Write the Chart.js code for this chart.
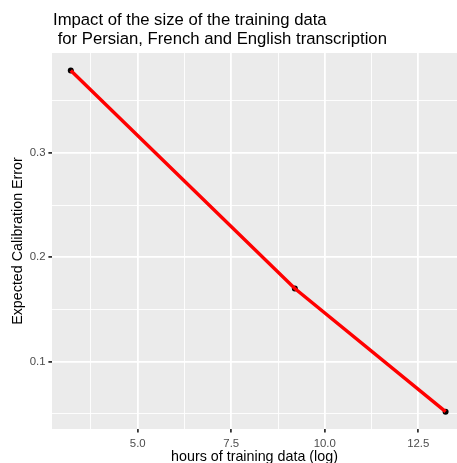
<!DOCTYPE html>
<html><head><meta charset="utf-8">
<script src="https://cdn.jsdelivr.net/npm/chart.js@4/dist/chart.umd.min.js"></script>
<style>html,body{margin:0;padding:0;background:#fff;overflow:hidden}#wrap{width:457px;height:463px;position:relative}</style>
</head><body><div id="wrap"><canvas id="c" width="457" height="463"></canvas></div>
<script>
const titleLines = ["Impact of the size of the training data", " for Persian, French and English transcription"];
const xTitle = "hours of training data (log)";
const yTitle = "Expected Calibration Error";
const hoursLog = [3.21, 9.20, 13.23];
const ece = [0.379, 0.170, 0.052];
const xMajorTicks = [5.0, 7.5, 10.0, 12.5];
const xTickLabels = ["5.0", "7.5", "10.0", "12.5"];
const xMinorTicks = [3.75, 6.25, 8.75, 11.25];
const yMajorTicks = [0.1, 0.2, 0.3];
const yTickLabels = ["0.1", "0.2", "0.3"];
const yMinorTicks = [0.05, 0.15, 0.25, 0.35];

const FONT = '"Liberation Sans", Arial, sans-serif';
const points = hoursLog.map((x, i) => ({x: x, y: ece[i]}));

function isMajor(list, v) { return list.some(m => Math.abs(m - v) < 1e-9); }
function labelFor(list, labels, v) {
  const i = list.findIndex(m => Math.abs(m - v) < 1e-9);
  return i >= 0 ? labels[i] : '';
}
function buildTicks(major, minor) {
  return major.concat(minor).sort((a, b) => a - b).map(v => ({value: v}));
}
function gridOpts(major) {
  return {
    color: '#FFFFFF',
    lineWidth: c => (c.tick && isMajor(major, c.tick.value)) ? 1.8 : 0.9,
    tickColor: c => (c.tick && isMajor(major, c.tick.value)) ? '#333333' : 'rgba(0,0,0,0)',
    tickWidth: 1.8,
    tickLength: 3.6,
    drawTicks: true,
    drawOnChartArea: true
  };
}

const panelBg = {
  id: 'panelBg',
  beforeDraw(chart) {
    const {ctx, chartArea: a} = chart;
    ctx.save();
    ctx.fillStyle = '#EBEBEB';
    ctx.fillRect(a.left, a.top, a.right - a.left, a.bottom - a.top);
    ctx.restore();
  }
};
const plotTitle = {
  id: 'plotTitle',
  afterDraw(chart) {
    const {ctx, chartArea: a} = chart;
    ctx.save();
    ctx.fillStyle = '#000000';
    ctx.font = '16.7px ' + FONT;
    ctx.textAlign = 'left';
    ctx.textBaseline = 'alphabetic';
    ctx.fillText(titleLines[0], a.left + 1, 25);
    ctx.fillText(titleLines[1], a.left + 1, 43.5);
    ctx.restore();
  }
};

new Chart(document.getElementById('c'), {
  data: {
    datasets: [
      {type: 'line', data: points, borderColor: '#FF0000', borderWidth: 3.4, pointRadius: 0, fill: false, tension: 0, order: 0},
      {type: 'scatter', data: points, backgroundColor: '#000000', borderWidth: 0, pointRadius: 3, order: 1}
    ]
  },
  options: {
    responsive: false,
    animation: false,
    devicePixelRatio: 1,
    layout: {autoPadding: false, padding: {top: 53, left: 0, right: 0, bottom: 0}},
    plugins: {legend: {display: false}, tooltip: {enabled: false}, title: {display: false}},
    scales: {
      x: {
        type: 'linear', position: 'bottom',
        min: 2.708, max: 13.535,
        afterBuildTicks: s => { s.ticks = buildTicks(xMajorTicks, xMinorTicks); },
        afterFit: s => { s.height = 34; },
        border: {display: false},
        grid: gridOpts(xMajorTicks),
        ticks: {
          autoSkip: false, maxRotation: 0, padding: 4.5,
          color: '#4D4D4D', font: {family: FONT, size: 11.4},
          callback: v => labelFor(xMajorTicks, xTickLabels, v)
        },
        title: {display: true, text: xTitle, color: '#000000', font: {family: FONT, size: 14.3, lineHeight: 1.0}, padding: {top: 0, bottom: -1.5}}
      },
      y: {
        type: 'linear', position: 'left',
        min: 0.0354, max: 0.3957,
        afterBuildTicks: s => { s.ticks = buildTicks(yMajorTicks, yMinorTicks); },
        afterFit: s => { s.width = 52; },
        border: {display: false},
        grid: gridOpts(yMajorTicks),
        ticks: {
          autoSkip: false, padding: 2.9,
          color: '#4D4D4D', font: {family: FONT, size: 11.4},
          callback: v => labelFor(yMajorTicks, yTickLabels, v)
        },
        title: {display: true, text: yTitle, color: '#000000', font: {family: FONT, size: 14.3, lineHeight: 1.2}, padding: {top: 9.4, bottom: 0}}
      }
    }
  },
  plugins: [panelBg, plotTitle]
});
</script></body></html>
